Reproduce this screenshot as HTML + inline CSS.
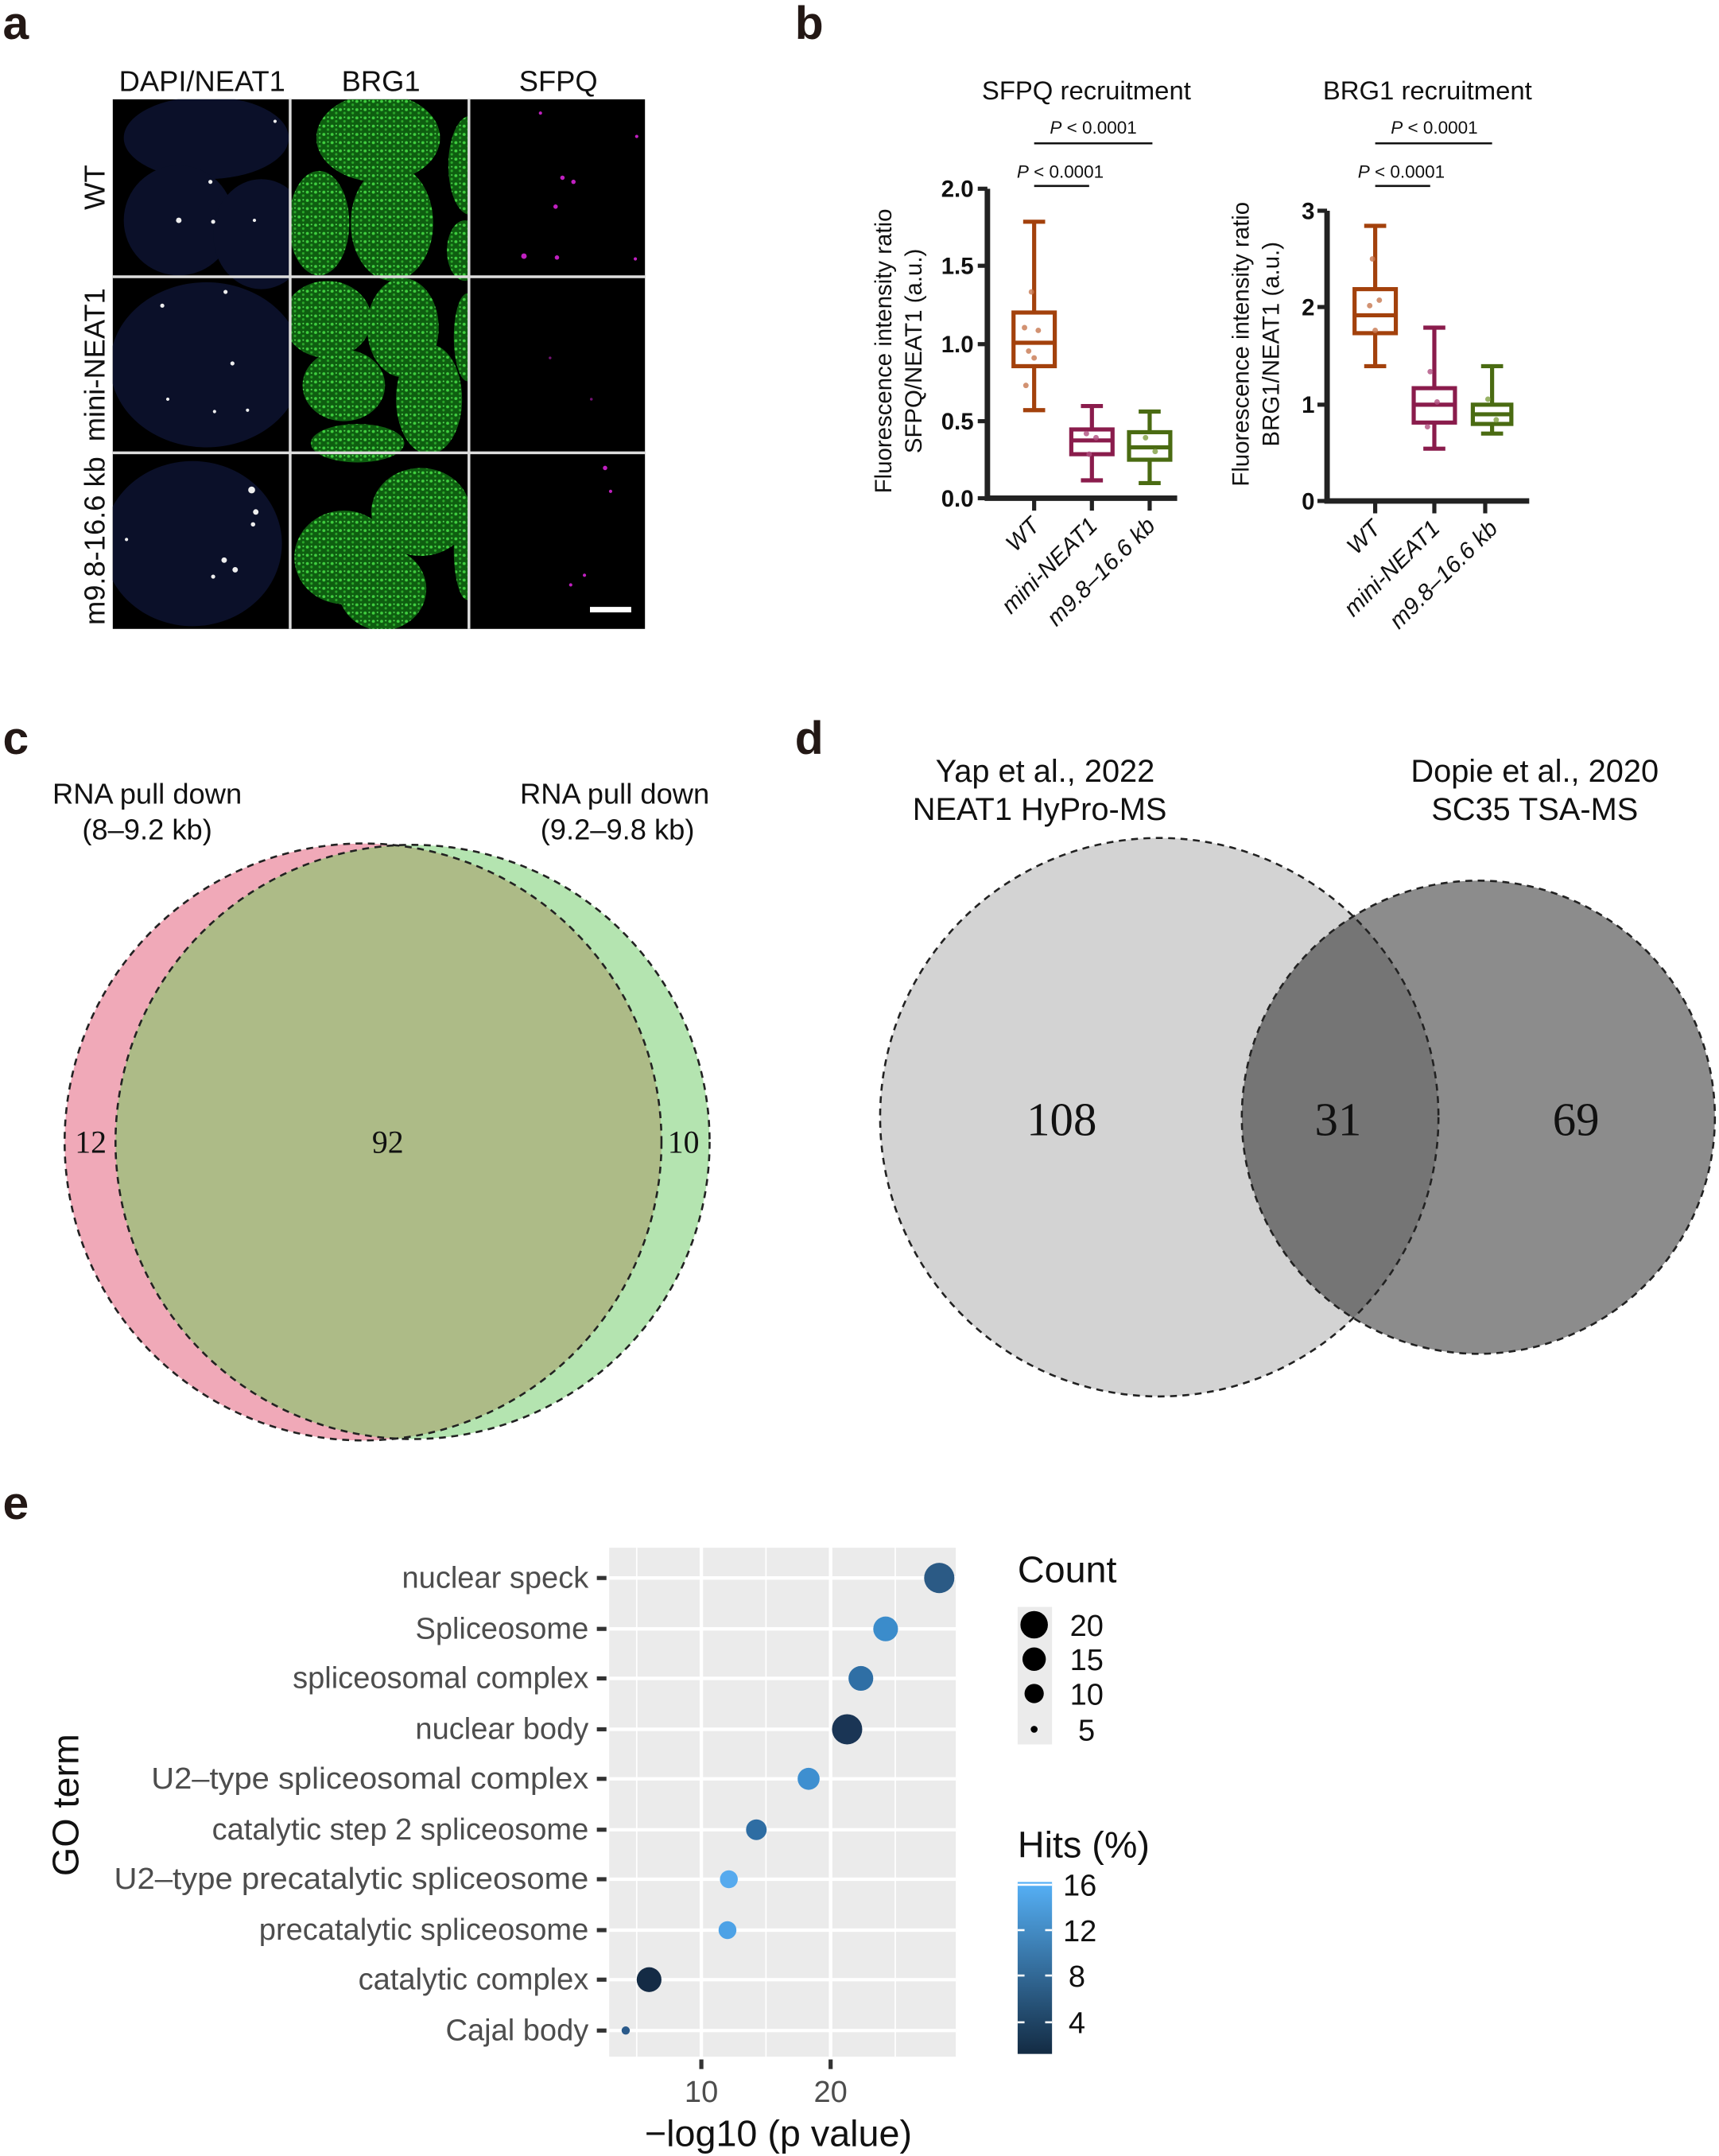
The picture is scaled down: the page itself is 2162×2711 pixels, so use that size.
<!DOCTYPE html>
<html><head><meta charset="utf-8"><style>html,body{margin:0;padding:0;background:#fff}svg{display:block}</style></head><body>
<svg width="2162" height="2711" viewBox="0 0 1250 1567" xmlns="http://www.w3.org/2000/svg" font-family="Liberation Sans, sans-serif">
<defs>
<clipPath id="c1"><rect x="82" y="72" width="128" height="385"/></clipPath>
<clipPath id="c2"><rect x="212" y="72" width="128" height="385"/></clipPath>
<linearGradient id="cb" x1="0" y1="1" x2="0" y2="0"><stop offset="0" stop-color="#132b43"/><stop offset="1" stop-color="#56b1f7"/></linearGradient>
<pattern id="gp" width="6" height="6" patternUnits="userSpaceOnUse"><rect width="6" height="6" fill="#0e5e10"/><circle cx="1.5" cy="1.5" r="1.1" fill="#3fcf3f"/><circle cx="4.5" cy="4" r="0.9" fill="#2aa82a"/><circle cx="4.5" cy="1" r="0.6" fill="#56e056"/></pattern>
</defs>
<rect width="1250" height="1567" fill="#fff"/>
<g font-weight="bold" font-size="34" fill="#231815">
<text x="2" y="28">a</text><text x="578" y="28">b</text><text x="2" y="548">c</text><text x="578" y="548">d</text><text x="2" y="1104">e</text></g>

<!-- panel a -->
<g font-size="21" fill="#111" text-anchor="middle">
<text x="147" y="66">DAPI/NEAT1</text><text x="277" y="66">BRG1</text><text x="406" y="66">SFPQ</text>
<text transform="translate(76,136) rotate(-90)">WT</text>
<text transform="translate(76,265) rotate(-90)">mini-NEAT1</text>
<text transform="translate(76,393) rotate(-90)">m9.8-16.6 kb</text></g>
<rect x="82" y="72" width="387" height="385" fill="#000"/>
<g clip-path="url(#c1)" fill="#0b1029">
<ellipse cx="150" cy="100" rx="60" ry="30"/><ellipse cx="130" cy="160" rx="40" ry="40"/><ellipse cx="190" cy="170" rx="35" ry="40"/>
<ellipse cx="150" cy="265" rx="70" ry="60"/><ellipse cx="140" cy="395" rx="65" ry="60"/></g>
<g fill="#eee">
<circle cx="153" cy="132" r="1.5"/><circle cx="130" cy="160" r="2"/><circle cx="155" cy="161" r="1.5"/><circle cx="200" cy="88" r="1.2"/><circle cx="185" cy="160" r="1.2"/>
<circle cx="118" cy="222" r="1.5"/><circle cx="164" cy="212" r="1.5"/><circle cx="169" cy="264" r="1.5"/><circle cx="122" cy="290" r="1.2"/><circle cx="156" cy="299" r="1.2"/><circle cx="180" cy="298" r="1.2"/>
<circle cx="183" cy="356" r="2.5"/><circle cx="186" cy="372" r="2"/><circle cx="184" cy="381" r="1.6"/><circle cx="163" cy="407" r="2"/><circle cx="171" cy="414" r="2"/><circle cx="155" cy="419" r="1.5"/><circle cx="92" cy="392" r="1.2"/></g>
<g clip-path="url(#c2)" fill="url(#gp)">
<ellipse cx="275" cy="100" rx="45" ry="32"/><ellipse cx="232" cy="162" rx="22" ry="38"/><ellipse cx="285" cy="162" rx="30" ry="42"/><ellipse cx="342" cy="120" rx="16" ry="36"/><ellipse cx="338" cy="182" rx="13" ry="22"/>
<ellipse cx="238" cy="232" rx="32" ry="28"/><ellipse cx="293" cy="238" rx="26" ry="36"/><ellipse cx="250" cy="280" rx="30" ry="26"/><ellipse cx="312" cy="290" rx="24" ry="40"/><ellipse cx="260" cy="322" rx="34" ry="14"/><ellipse cx="340" cy="245" rx="10" ry="32"/>
<ellipse cx="306" cy="372" rx="36" ry="32"/><ellipse cx="250" cy="405" rx="36" ry="34"/><ellipse cx="278" cy="428" rx="32" ry="30"/><ellipse cx="340" cy="400" rx="10" ry="36"/></g>
<g fill="#c020c0">
<circle cx="393" cy="82" r="1.2"/><circle cx="409" cy="129" r="1.6"/><circle cx="417" cy="132" r="1.6"/><circle cx="404" cy="150" r="1.6"/><circle cx="381" cy="186" r="2"/><circle cx="405" cy="187" r="1.6"/><circle cx="462" cy="188" r="1.2"/><circle cx="463" cy="99" r="1.2"/>
<circle cx="440" cy="340" r="1.6"/><circle cx="444" cy="357" r="1.2"/><circle cx="425" cy="418" r="1.2"/><circle cx="415" cy="425" r="1.2"/><circle cx="400" cy="260" r="1" opacity=".6"/><circle cx="430" cy="290" r="1" opacity=".6"/></g>
<g stroke="#ddd" stroke-width="2"><line x1="211" y1="72" x2="211" y2="457"/><line x1="341" y1="72" x2="341" y2="457"/><line x1="82" y1="201" x2="469" y2="201"/><line x1="82" y1="329" x2="469" y2="329"/></g>
<rect x="429" y="441" width="30" height="4" fill="#fff"/>

<!-- panel b -->
<g font-size="19" fill="#111" text-anchor="middle"><text x="790" y="72">SFPQ recruitment</text><text x="1038" y="72">BRG1 recruitment</text></g>
<g font-size="13" fill="#111" text-anchor="middle"><text x="795" y="97"><tspan font-style="italic">P</tspan> &lt; 0.0001</text><text x="771" y="129"><tspan font-style="italic">P</tspan> &lt; 0.0001</text>
<text x="1043" y="97"><tspan font-style="italic">P</tspan> &lt; 0.0001</text><text x="1019" y="129"><tspan font-style="italic">P</tspan> &lt; 0.0001</text></g>
<g stroke="#111" stroke-width="1.5"><line x1="752" y1="104" x2="838" y2="104"/><line x1="752" y1="135" x2="792" y2="135"/><line x1="1000" y1="104" x2="1085" y2="104"/><line x1="1000" y1="135" x2="1040" y2="135"/></g>
<g font-size="17" fill="#111" text-anchor="middle"><text transform="translate(648,255) rotate(-90)">Fluorescence intensity ratio</text><text transform="translate(670,255) rotate(-90)">SFPQ/NEAT1 (a.u.)</text>
<text transform="translate(908,250) rotate(-90)">Fluorescence intensity ratio</text><text transform="translate(930,250) rotate(-90)">BRG1/NEAT1 (a.u.)</text></g>
<g stroke="#222" stroke-width="4" fill="none"><path d="M718 137 V362 H856"/><path d="M965 153 V364 H1112"/></g>
<g stroke="#222" stroke-width="3"><line x1="711" y1="137" x2="718" y2="137"/><line x1="711" y1="193" x2="718" y2="193"/><line x1="711" y1="250" x2="718" y2="250"/><line x1="711" y1="306" x2="718" y2="306"/><line x1="711" y1="362" x2="718" y2="362"/>
<line x1="752" y1="362" x2="752" y2="371"/><line x1="794" y1="362" x2="794" y2="371"/><line x1="836" y1="362" x2="836" y2="371"/>
<line x1="958" y1="153" x2="965" y2="153"/><line x1="958" y1="223" x2="965" y2="223"/><line x1="958" y1="294" x2="965" y2="294"/><line x1="958" y1="364" x2="965" y2="364"/>
<line x1="1000" y1="364" x2="1000" y2="373"/><line x1="1043" y1="364" x2="1043" y2="373"/><line x1="1080" y1="364" x2="1080" y2="373"/></g>
<g font-size="17" font-weight="bold" fill="#111" text-anchor="end"><text x="708" y="143">2.0</text><text x="708" y="199">1.5</text><text x="708" y="256">1.0</text><text x="708" y="312">0.5</text><text x="708" y="368">0.0</text>
<text x="956" y="159">3</text><text x="956" y="229">2</text><text x="956" y="300">1</text><text x="956" y="370">0</text></g>
<g font-size="17" font-style="italic" fill="#111" text-anchor="end">
<text transform="translate(757,383) rotate(-45)">WT</text><text transform="translate(799,383) rotate(-45)">mini-NEAT1</text><text transform="translate(841,383) rotate(-45)">m9.8–16.6 kb</text>
<text transform="translate(1005,385) rotate(-45)">WT</text><text transform="translate(1048,385) rotate(-45)">mini-NEAT1</text><text transform="translate(1090,385) rotate(-45)">m9.8–16.6 kb</text></g>
<g fill="none" stroke-width="3">
<g stroke="#a3410c"><line x1="752" y1="161" x2="752" y2="298"/><line x1="744" y1="161" x2="760" y2="161"/><line x1="744" y1="298" x2="760" y2="298"/><rect x="737" y="227" width="30" height="39" fill="#fff"/><line x1="737" y1="249" x2="767" y2="249"/></g>
<g stroke="#8a1c4c"><line x1="794" y1="295" x2="794" y2="349"/><line x1="786" y1="295" x2="802" y2="295"/><line x1="786" y1="349" x2="802" y2="349"/><rect x="779" y="312" width="30" height="18" fill="#fff"/><line x1="779" y1="320" x2="809" y2="320"/></g>
<g stroke="#4a6b12"><line x1="836" y1="299" x2="836" y2="351"/><line x1="828" y1="299" x2="844" y2="299"/><line x1="828" y1="351" x2="844" y2="351"/><rect x="821" y="314" width="30" height="20" fill="#fff"/><line x1="821" y1="325" x2="851" y2="325"/></g>
<g stroke="#a3410c"><line x1="1000" y1="164" x2="1000" y2="266"/><line x1="992" y1="164" x2="1008" y2="164"/><line x1="992" y1="266" x2="1008" y2="266"/><rect x="985" y="210" width="30" height="32" fill="#fff"/><line x1="985" y1="229" x2="1015" y2="229"/></g>
<g stroke="#8a1c4c"><line x1="1043" y1="238" x2="1043" y2="326"/><line x1="1035" y1="238" x2="1051" y2="238"/><line x1="1035" y1="326" x2="1051" y2="326"/><rect x="1028" y="282" width="30" height="25" fill="#fff"/><line x1="1028" y1="294" x2="1058" y2="294"/></g>
<g stroke="#4a6b12"><line x1="1085" y1="266" x2="1085" y2="315"/><line x1="1077" y1="266" x2="1093" y2="266"/><line x1="1077" y1="315" x2="1093" y2="315"/><rect x="1071" y="294" width="28" height="14" fill="#fff"/><line x1="1071" y1="301" x2="1099" y2="301"/></g>
</g>
<g fill="#c87850" opacity=".8"><circle cx="750" cy="212" r="2"/><circle cx="745" cy="238" r="2"/><circle cx="755" cy="240" r="2"/><circle cx="748" cy="255" r="2"/><circle cx="752" cy="260" r="2"/><circle cx="746" cy="280" r="2"/><circle cx="998" cy="188" r="2"/><circle cx="996" cy="222" r="2"/><circle cx="1003" cy="218" r="2"/><circle cx="1000" cy="240" r="2"/></g>
<g fill="#b05080" opacity=".8"><circle cx="790" cy="315" r="2"/><circle cx="797" cy="318" r="2"/><circle cx="792" cy="330" r="2"/><circle cx="1040" cy="270" r="2"/><circle cx="1045" cy="292" r="2"/><circle cx="1038" cy="310" r="2"/></g>
<g fill="#80a040" opacity=".8"><circle cx="833" cy="318" r="2"/><circle cx="840" cy="328" r="2"/><circle cx="1082" cy="290" r="2"/><circle cx="1088" cy="305" r="2"/></g>

<!-- panel c -->
<g font-size="21" fill="#111" text-anchor="middle"><text x="107" y="584">RNA pull down</text><text x="107" y="610">(8–9.2 kb)</text><text x="447" y="584">RNA pull down</text><text x="449" y="610">(9.2–9.8 kb)</text></g>
<circle cx="264" cy="830" r="217" fill="#f0a9b8"/>
<circle cx="300" cy="830" r="216" fill="#b4e4b0"/>
<clipPath id="pk"><circle cx="264" cy="830" r="217"/></clipPath>
<circle cx="300" cy="830" r="216" fill="#adbb87" clip-path="url(#pk)"/>
<g fill="none" stroke="#222" stroke-width="1.5" stroke-dasharray="5,4"><circle cx="264" cy="830" r="217"/><circle cx="300" cy="830" r="216"/></g>
<g font-family="Liberation Serif, serif" font-size="23" fill="#111" text-anchor="middle"><text x="66" y="838">12</text><text x="282" y="838">92</text><text x="497" y="838">10</text></g>

<!-- panel d -->
<g font-size="23" fill="#111" text-anchor="middle"><text x="760" y="568">Yap et al., 2022</text><text x="756" y="596">NEAT1 HyPro-MS</text><text x="1116" y="568">Dopie et al., 2020</text><text x="1116" y="596">SC35 TSA-MS</text></g>
<circle cx="843" cy="812" r="203" fill="#d3d3d3"/>
<circle cx="1075" cy="812" r="172" fill="#8c8c8c"/>
<clipPath id="dl"><circle cx="843" cy="812" r="203"/></clipPath>
<circle cx="1075" cy="812" r="172" fill="#757575" clip-path="url(#dl)"/>
<g fill="none" stroke="#222" stroke-width="1.5" stroke-dasharray="5,4"><circle cx="843" cy="812" r="203"/><circle cx="1075" cy="812" r="172"/></g>
<g font-family="Liberation Serif, serif" font-size="34" fill="#111" text-anchor="middle"><text x="772" y="825">108</text><text x="973" y="825">31</text><text x="1146" y="825">69</text></g>

<!-- panel e -->
<rect x="443" y="1125" width="252" height="370" fill="#ebebeb"/>
<g stroke="#fff" stroke-width="1"><line x1="463" y1="1125" x2="463" y2="1495"/><line x1="557" y1="1125" x2="557" y2="1495"/><line x1="651" y1="1125" x2="651" y2="1495"/></g>
<g stroke="#fff" stroke-width="2.5"><line x1="510" y1="1125" x2="510" y2="1495"/><line x1="604" y1="1125" x2="604" y2="1495"/>
<line x1="443" y1="1147" x2="695" y2="1147"/><line x1="443" y1="1184" x2="695" y2="1184"/><line x1="443" y1="1220" x2="695" y2="1220"/><line x1="443" y1="1257" x2="695" y2="1257"/><line x1="443" y1="1293" x2="695" y2="1293"/><line x1="443" y1="1330" x2="695" y2="1330"/><line x1="443" y1="1366" x2="695" y2="1366"/><line x1="443" y1="1403" x2="695" y2="1403"/><line x1="443" y1="1439" x2="695" y2="1439"/><line x1="443" y1="1476" x2="695" y2="1476"/></g>
<g stroke="#333" stroke-width="3"><line x1="434" y1="1147" x2="441" y2="1147"/><line x1="434" y1="1184" x2="441" y2="1184"/><line x1="434" y1="1220" x2="441" y2="1220"/><line x1="434" y1="1257" x2="441" y2="1257"/><line x1="434" y1="1293" x2="441" y2="1293"/><line x1="434" y1="1330" x2="441" y2="1330"/><line x1="434" y1="1366" x2="441" y2="1366"/><line x1="434" y1="1403" x2="441" y2="1403"/><line x1="434" y1="1439" x2="441" y2="1439"/><line x1="434" y1="1476" x2="441" y2="1476"/>
<line x1="510" y1="1497" x2="510" y2="1504"/><line x1="604" y1="1497" x2="604" y2="1504"/></g>
<g font-size="22" fill="#4d4d4d" text-anchor="end">
<text x="428" y="1154">nuclear speck</text><text x="428" y="1191">Spliceosome</text><text x="428" y="1227">spliceosomal complex</text><text x="428" y="1264">nuclear body</text><text x="428" y="1300" textLength="318" lengthAdjust="spacingAndGlyphs">U2–type spliceosomal complex</text><text x="428" y="1337">catalytic step 2 spliceosome</text><text x="428" y="1373" textLength="345" lengthAdjust="spacingAndGlyphs">U2–type precatalytic spliceosome</text><text x="428" y="1410">precatalytic spliceosome</text><text x="428" y="1446">catalytic complex</text><text x="428" y="1483">Cajal body</text></g>
<g font-size="22" fill="#4d4d4d" text-anchor="middle"><text x="510" y="1528">10</text><text x="604" y="1528">20</text></g>
<text x="566" y="1560" font-size="27" fill="#111" text-anchor="middle">−log10 (p value)</text>
<text transform="translate(57,1312) rotate(-90)" font-size="27" fill="#111" text-anchor="middle">GO term</text>
<circle cx="683" cy="1147" r="11" fill="#2b5a85"/><circle cx="644" cy="1184" r="9" fill="#3b8ccb"/><circle cx="626" cy="1220" r="9" fill="#2f6fa5"/><circle cx="616" cy="1257" r="11" fill="#1a3555"/><circle cx="588" cy="1293" r="8" fill="#3e8fd0"/><circle cx="550" cy="1330" r="7.5" fill="#2e6da3"/><circle cx="530" cy="1366" r="6.5" fill="#56aaee"/><circle cx="529" cy="1403" r="6.5" fill="#4da2e6"/><circle cx="472" cy="1439" r="9" fill="#142b45"/><circle cx="455" cy="1476" r="3" fill="#2a5a8a"/>
<text x="740" y="1150" font-size="27" fill="#111">Count</text>
<rect x="740" y="1168" width="25" height="100" fill="#ebebeb"/>
<circle cx="752" cy="1181" r="10" fill="#000"/><circle cx="752" cy="1206" r="8.5" fill="#000"/><circle cx="752" cy="1231" r="7" fill="#000"/><circle cx="752" cy="1257" r="2.5" fill="#000"/>
<g font-size="22" fill="#111"><text x="778" y="1189">20</text><text x="778" y="1214">15</text><text x="778" y="1239">10</text><text x="784" y="1265">5</text></g>
<text x="740" y="1350" font-size="27" fill="#111">Hits (%)</text>
<rect x="740" y="1368" width="25" height="125" fill="url(#cb)"/>
<g stroke="#fff" stroke-width="1.5"><line x1="740" y1="1436" x2="745" y2="1436"/><line x1="760" y1="1436" x2="765" y2="1436"/><line x1="740" y1="1403" x2="745" y2="1403"/><line x1="760" y1="1403" x2="765" y2="1403"/><line x1="740" y1="1470" x2="745" y2="1470"/><line x1="760" y1="1470" x2="765" y2="1470"/><line x1="740" y1="1370" x2="765" y2="1370"/></g>
<g font-size="22" fill="#111"><text x="773" y="1378">16</text><text x="773" y="1411">12</text><text x="777" y="1444">8</text><text x="777" y="1478">4</text></g>
</svg>
</body></html>
